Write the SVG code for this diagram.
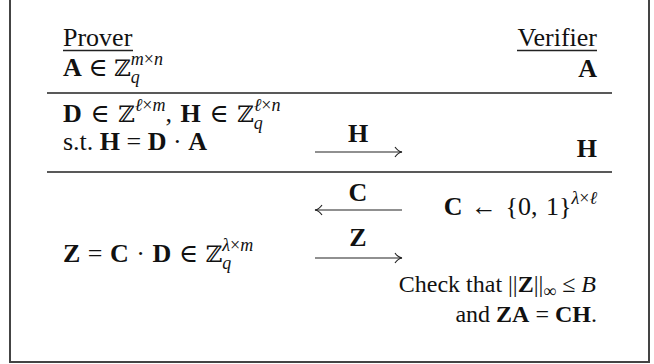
<svg xmlns="http://www.w3.org/2000/svg" width="654" height="364" viewBox="0 0 654 364">
<defs>
<style>
text{font-family:"Liberation Serif","DejaVu Serif",serif;font-size:26px;fill:#111}
.b{font-weight:bold}
.i{font-style:italic}
.s{font-size:18px}
.bb{font-family:"DejaVu Serif","DejaVu Sans",serif;font-size:23px}
.sm{font-size:24px}
.end{text-anchor:end}
.mid{text-anchor:middle}
.rule{stroke:#222;stroke-width:1.4}
.arr{stroke:#222;stroke-width:1.1;fill:none}
</style>
<marker id="head" markerUnits="userSpaceOnUse" markerWidth="12" markerHeight="12" refX="10" refY="6" orient="auto">
<path d="M3,1 C5,4 7,5.5 10,6 C7,6.5 5,8 3,11" fill="none" stroke="#222" stroke-width="1.1"/>
</marker>
</defs>
<rect x="10" y="-2" width="639" height="364" fill="#fff" stroke="#444" stroke-width="2"/>
<g id="prover-header">
<text x="63" y="46">Prover</text>
<line class="rule" x1="63" y1="50.5" x2="133" y2="50.5"/>
</g>
<g id="verifier-header">
<text class="end" x="597" y="46">Verifier</text>
<line class="rule" x1="517" y1="50.5" x2="597" y2="50.5"/>
</g>
<g id="prover-A">
<text x="63" y="76"><tspan class="b">A</tspan> ∈ <tspan class="bb">ℤ</tspan><tspan class="s i" dy="7">q</tspan><tspan class="s i" dx="-9" dy="-18">m</tspan><tspan class="s">×</tspan><tspan class="s i">n</tspan></text>
</g>
<g id="verifier-A">
<text class="end b" x="597" y="77">A</text>
</g>
<line class="rule" x1="47" y1="93" x2="612" y2="93"/>
<g id="prover-DH">
<text x="63" y="122" word-spacing="2"><tspan class="b">D</tspan> ∈ <tspan class="bb">ℤ</tspan><tspan class="s i" dy="-11">ℓ</tspan><tspan class="s">×</tspan><tspan class="s i">m</tspan><tspan dy="11">, </tspan><tspan class="b">H</tspan> ∈ <tspan class="bb">ℤ</tspan><tspan class="s i" dy="7">q</tspan><tspan class="s i" dx="-9" dy="-18">ℓ</tspan><tspan class="s">×</tspan><tspan class="s i">n</tspan></text>
</g>
<g id="prover-st">
<text x="63" y="150">s.t. <tspan class="b">H</tspan> = <tspan class="b">D</tspan> · <tspan class="b">A</tspan></text>
</g>
<g id="verifier-H">
<text class="end b" x="597" y="157">H</text>
</g>
<line class="rule" x1="47" y1="172" x2="612" y2="172"/>
<g id="verifier-C">
<text class="end" x="597" y="215" word-spacing="2"><tspan class="b">C</tspan> ← {0, 1}<tspan class="s i" dy="-11">λ</tspan><tspan class="s">×</tspan><tspan class="s i">ℓ</tspan></text>
</g>
<g id="prover-Z">
<text x="63" y="262" word-spacing="1"><tspan class="b">Z</tspan> = <tspan class="b">C</tspan> · <tspan class="b">D</tspan> ∈ <tspan class="bb">ℤ</tspan><tspan class="s i" dy="7">q</tspan><tspan class="s i" dx="-9" dy="-18">λ</tspan><tspan class="s">×</tspan><tspan class="s i">m</tspan></text>
</g>
<g id="verifier-check">
<text class="end sm" x="596" y="292">Check that ||<tspan class="b">Z</tspan>||<tspan class="s" dy="5" font-size="16">∞</tspan><tspan dy="-5"> ≤ </tspan><tspan class="i">B</tspan></text>
<text class="end sm" x="597" y="322">and <tspan class="b">ZA</tspan> = <tspan class="b">CH</tspan>.</text>
</g>
<g id="connectors">
<line class="arr" x1="315" y1="152" x2="402" y2="152" marker-end="url(#head)"/>
<text class="mid b" x="358" y="142">H</text>
<line class="arr" x1="402" y1="210" x2="315" y2="210" marker-end="url(#head)"/>
<text class="mid b" x="358" y="201">C</text>
<line class="arr" x1="315" y1="258" x2="402" y2="258" marker-end="url(#head)"/>
<text class="mid b" x="358" y="246">Z</text>
</g>
</svg>
